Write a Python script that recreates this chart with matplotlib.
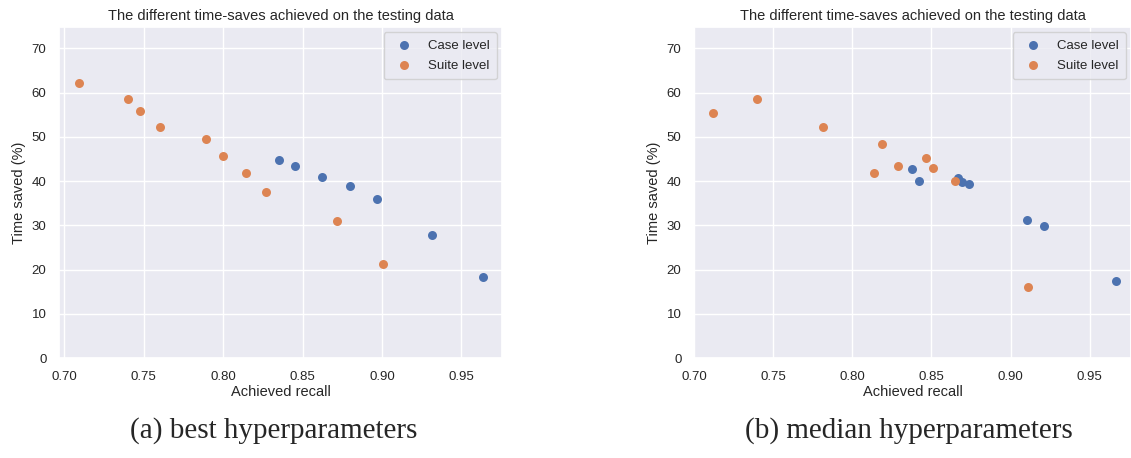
import matplotlib
matplotlib.use("Agg")
import matplotlib.pyplot as plt
import seaborn as sns

sns.set_theme(style="darkgrid")
plt.rcParams['font.family'] = ['Liberation Sans', 'DejaVu Sans']

# (a) best hyperparameters
best_case_recall = [0.835, 0.845, 0.8625, 0.880, 0.897, 0.9313, 0.9636]
best_case_saved = [44.8, 43.3, 41.0, 38.8, 35.9, 27.8, 18.4]
best_suite_recall = [0.709, 0.740, 0.7476, 0.760, 0.789, 0.800, 0.8142, 0.8268, 0.8715, 0.9009]
best_suite_saved = [62.2, 58.5, 55.8, 52.1, 49.4, 45.7, 41.8, 37.5, 30.9, 21.3]

# (b) median hyperparameters
med_case_recall = [0.8379, 0.8423, 0.8669, 0.869, 0.874, 0.9101, 0.9208, 0.9668]
med_case_saved = [42.8, 40.0, 40.7, 39.7, 39.4, 31.1, 29.8, 17.5]
med_suite_recall = [0.7122, 0.740, 0.7817, 0.8186, 0.814, 0.8287, 0.8463, 0.8511, 0.865, 0.9107]
med_suite_saved = [55.4, 58.5, 52.1, 48.3, 41.8, 43.3, 45.3, 43.0, 40.0, 16.0]

captions = ["(a) best hyperparameters", "(b) median hyperparameters"]
title = "The different time-saves achieved on the testing data"

fig = plt.figure(figsize=(11.31, 4.58), dpi=100)
ax1 = fig.add_axes([0.0522, 0.2183, 0.3917, 0.7227])
ax2 = fig.add_axes([0.6136, 0.2183, 0.3864, 0.7227])

panels = [
    (ax1, best_case_recall, best_case_saved, best_suite_recall, best_suite_saved, (0.6967, 0.9756)),
    (ax2, med_case_recall, med_case_saved, med_suite_recall, med_suite_saved, (0.70, 0.976)),
]

blue, orange = sns.color_palette()[0], sns.color_palette()[1]

for ax, cx, cy, sx, sy, xlim in panels:
    ax.scatter(cx, cy, s=42, color=blue, label="Case level", linewidths=0)
    ax.scatter(sx, sy, s=42, color=orange, label="Suite level", linewidths=0)
    ax.set_xlim(*xlim)
    ax.set_ylim(0, 74.8)
    ax.set_yticks(range(0, 71, 10))
    ax.set_xticks([0.70, 0.75, 0.80, 0.85, 0.90, 0.95])
    ax.set_xticklabels(["0.70", "0.75", "0.80", "0.85", "0.90", "0.95"])
    ax.tick_params(labelsize=9.5, pad=3)
    ax.set_xlabel("Achieved recall", fontsize=10.5, labelpad=2)
    ax.set_ylabel("Time saved (%)", fontsize=10.5, labelpad=4)
    ax.set_title(title, fontsize=10.5, pad=5)
    ax.legend(loc="upper right", fontsize=9.5, borderaxespad=0.4,
              labelspacing=0.6, borderpad=0.55)

fig.text(0.242, 0.045, captions[0], fontsize=21, family=['Liberation Serif'], ha='center')
fig.text(0.804, 0.045, captions[1], fontsize=21, family=['Liberation Serif'], ha='center')

fig.savefig("out.png", dpi=100, facecolor="white")
